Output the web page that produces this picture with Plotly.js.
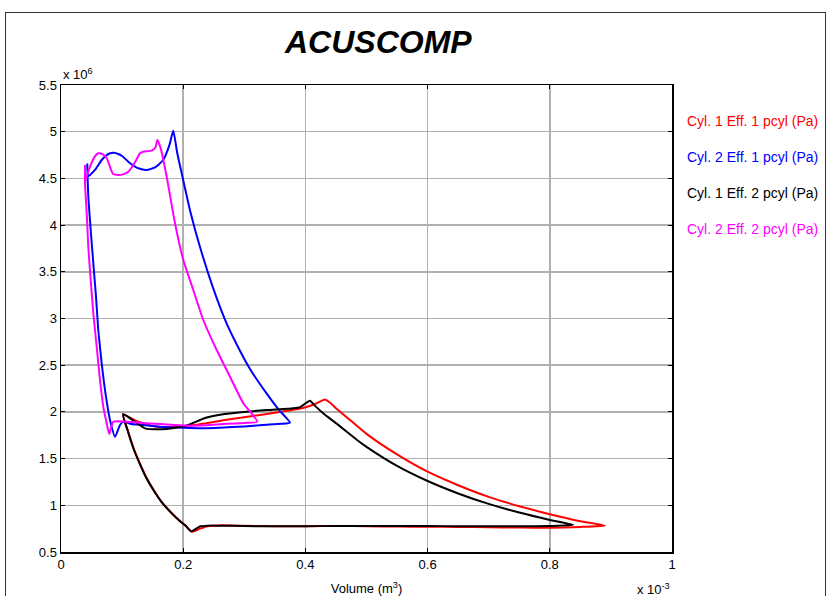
<!DOCTYPE html>
<html>
<head>
<meta charset="utf-8">
<script src="https://cdn.plot.ly/plotly-3.0.1.min.js"></script>
<style>
html,body{margin:0;padding:0;background:#fff;overflow:hidden;width:829px;height:596px;}
#frame{position:absolute;left:5px;top:12px;width:821px;height:700px;border:1px solid #333;box-sizing:border-box;pointer-events:none;z-index:5;}
#chart{position:absolute;left:0;top:0;width:829px;height:596px;}
</style>
</head>
<body>
<div id="chart"></div>
<div id="frame"></div>
<script>
// Volume in units of 1e-3 m^3, pressure in units of 1e6 Pa
const seriesNames = ["Cyl. 1 Eff. 1 pcyl (Pa)", "Cyl. 2 Eff. 1 pcyl (Pa)", "Cyl. 1 Eff. 2 pcyl (Pa)", "Cyl. 2 Eff. 2 pcyl (Pa)"];
const seriesColors = ["#ff0000", "#0000ff", "#000000", "#ff00ff"];

const volCyl1Eff1 = [0.102,0.110,0.120,0.1265,0.140,0.154,0.165,0.181,0.195,0.205,0.214,
  0.220,0.228,0.240,0.260,0.300,0.350,0.400,0.450,0.500,0.550,0.600,0.650,0.700,0.750,0.800,0.850,0.890,
  0.850,0.800,0.750,0.700,0.650,0.600,0.550,0.500,0.470,0.450,0.440,0.432,
  0.416,0.396,0.358,0.326,0.268,0.219,0.182,0.154,0.126,0.102];
const presCyl1Eff1 = [1.967,1.79,1.59,1.485,1.296,1.14,1.035,0.918,0.83,0.777,0.718,
  0.728,0.75,0.775,0.785,0.78,0.776,0.777,0.778,0.776,0.772,0.770,0.768,0.765,0.762,0.760,0.768,0.782,
  0.83,0.905,0.99,1.09,1.215,1.36,1.545,1.765,1.93,2.04,2.10,2.133,
  2.085,2.042,1.999,1.967,1.913,1.86,1.838,1.844,1.897,1.967];

const volCyl2Eff1 = [0.043,0.0435,0.0447,0.0486,0.0529,0.0573,0.061,0.0666,0.0736,0.0802,0.0884,0.0966,0.102,
  0.115,0.135,0.170,0.200,0.230,0.260,0.300,0.330,0.360,0.3748,
  0.3556,0.3367,0.3093,0.2929,0.2712,0.2493,0.2275,0.2111,0.1975,0.190,0.1838,
  0.178,0.172,0.1674,0.160,0.1538,0.1403,0.1265,0.118,0.1101,0.100,0.0938,0.087,0.0802,0.073,0.0666,0.0556,0.0475,0.0435];
const presCyl2Eff1 = [4.66,4.52,4.304,3.948,3.591,3.234,2.877,2.52,2.163,1.913,1.734,1.86,1.896,
  1.87,1.86,1.838,1.83,1.825,1.83,1.845,1.86,1.872,1.884,
  2.03,2.195,2.46,2.655,2.945,3.32,3.765,4.16,4.555,4.78,5.011,
  4.87,4.76,4.70,4.65,4.619,4.59,4.608,4.64,4.679,4.74,4.761,4.775,4.769,4.74,4.697,4.59,4.536,4.52];

const volCyl1Eff2 = [0.1015,0.109,0.119,0.126,0.139,0.153,0.164,0.180,0.194,0.204,0.213,
  0.220,0.228,0.240,0.260,0.300,0.350,0.400,0.450,0.500,0.550,0.600,0.650,0.700,0.750,0.800,0.8385,
  0.800,0.750,0.700,0.650,0.600,0.550,0.500,0.4845,0.450,0.430,0.415,0.4075,
  0.391,0.380,0.337,0.304,0.268,0.2357,0.208,0.1817,0.165,0.1375,0.1015];
const presCyl1Eff2 = [1.978,1.80,1.60,1.49,1.30,1.145,1.04,0.922,0.835,0.78,0.72,
  0.745,0.775,0.782,0.782,0.778,0.775,0.776,0.778,0.779,0.779,0.778,0.776,0.775,0.775,0.778,0.789,
  0.843,0.922,1.015,1.127,1.26,1.422,1.626,1.70,1.88,1.98,2.07,2.12,
  2.05,2.039,2.02,2.002,1.978,1.935,1.86,1.824,1.814,1.824,1.978];

const volCyl2Eff2 = [0.0393,0.0393,0.0421,0.0447,0.0486,0.0529,0.0584,0.0638,0.0692,0.0748,0.079,0.0856,
  0.1075,0.1457,0.180,0.2165,0.250,0.2712,0.300,0.3213,
  0.2984,0.2766,0.2548,0.2329,0.2165,0.2002,0.1866,0.173,0.1632,0.1576,
  0.1545,0.1484,0.1347,0.1293,0.120,0.1101,0.100,0.0938,0.085,0.0748,0.068,0.061,0.054,0.0475,0.042,0.0395];
const presCyl2Eff2 = [4.643,4.448,4.126,3.769,3.412,3.056,2.698,2.342,2.056,1.878,1.763,1.895,
  1.895,1.877,1.862,1.852,1.862,1.872,1.882,1.895,
  2.092,2.377,2.663,2.984,3.305,3.626,4.019,4.518,4.822,4.911,
  4.83,4.797,4.786,4.769,4.66,4.572,4.54,4.536,4.55,4.715,4.76,4.769,4.72,4.625,4.52,4.46];

const xTickVals = [0,0.2,0.4,0.6,0.8,1];
const xTickText = ["0","0.2","0.4","0.6","0.8","1"];
const yTickVals = [0.5,1,1.5,2,2.5,3,3.5,4,4.5,5,5.5];
const yTickText = ["0.5","1","1.5","2","2.5","3","3.5","4","4.5","5","5.5"];

const vols = [volCyl1Eff1, volCyl2Eff1, volCyl1Eff2, volCyl2Eff2];
const pres = [presCyl1Eff1, presCyl2Eff1, presCyl1Eff2, presCyl2Eff2];

const traces = vols.map((v, i) => ({
  x: v, y: pres[i], type: "scatter", mode: "lines", name: seriesNames[i],
  line: {color: seriesColors[i], width: 2, shape: "spline", smoothing: 0.5}, showlegend: false
}));

const font = "Liberation Sans, Arial, Helvetica, sans-serif";
const legendY = [0.9229, 0.8458, 0.7687, 0.6916];
const annotations = seriesNames.map((n, i) => ({
  xref: "paper", yref: "paper", x: 1.022, y: legendY[i], xanchor: "left", yanchor: "middle",
  text: n, showarrow: false, font: {family: font, size: 14, color: seriesColors[i]}
}));
annotations.push({xref: "paper", yref: "paper", x: 0.519, y: 1.092, xanchor: "center", yanchor: "middle",
  text: "<b><i>ACUSCOMP</i></b>", showarrow: false, font: {family: font, size: 32, color: "#000"}});
annotations.push({xref: "paper", yref: "paper", x: 0, y: 1, xanchor: "left", yanchor: "bottom", yshift: 1,
  text: "x 10<sup>6</sup>", showarrow: false, font: {family: font, size: 13, color: "#000"}});
annotations.push({xref: "paper", yref: "paper", x: 1, y: 0, xanchor: "right", yanchor: "top", yshift: -27,
  text: "x 10<sup>-3</sup>", showarrow: false, font: {family: font, size: 13, color: "#000"}});

const axisCommon = {
  showline: true, linecolor: "#000", linewidth: 1.5, mirror: "ticks",
  ticks: "inside", ticklen: 4, tickcolor: "#000", tickwidth: 1,
  showgrid: true, gridcolor: "#b0b0b0", gridwidth: 1.5, zeroline: false,
  tickfont: {family: font, size: 13, color: "#000"}
};

const layout = {
  width: 829, height: 596,
  margin: {l: 61, r: 157, t: 85, b: 44},
  paper_bgcolor: "#fff", plot_bgcolor: "#fff",
  xaxis: Object.assign({}, axisCommon, {range: [0, 1], tickvals: xTickVals, ticktext: xTickText,
    title: {text: "Volume (m<sup>3</sup>)", font: {family: font, size: 13, color: "#000"}, standoff: 14}}),
  yaxis: Object.assign({}, axisCommon, {range: [0.5, 5.5], tickvals: yTickVals, ticktext: yTickText}),
  annotations: annotations
};

Plotly.newPlot("chart", traces, layout, {displayModeBar: false, staticPlot: true});
</script>
</body>
</html>
